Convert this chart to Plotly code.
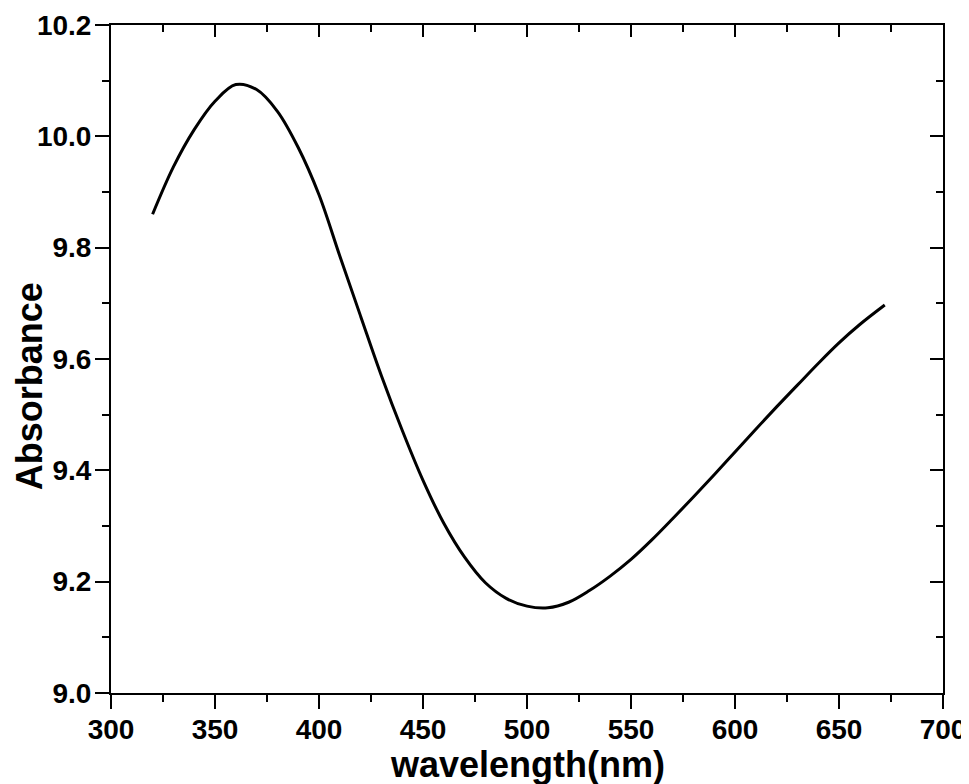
import plotly.graph_objects as go

# values
wavelength = [320, 330, 340, 350, 360, 370, 380, 390, 400, 410, 420, 430, 440,
              450, 460, 470, 480, 490, 500, 510, 520, 530, 540, 550, 560, 570,
              580, 590, 600, 610, 620, 630, 640, 650, 660, 672]
absorbance = [9.860, 9.945, 10.012, 10.063, 10.093, 10.084, 10.045, 9.980,
              9.895, 9.785, 9.677, 9.570, 9.472, 9.382, 9.305, 9.244, 9.198,
              9.170, 9.156, 9.153, 9.163, 9.184, 9.210, 9.240, 9.275, 9.313,
              9.352, 9.392, 9.433, 9.474, 9.514, 9.553, 9.592, 9.629, 9.662,
              9.697]

x_range = [300, 700]
y_range = [9.0, 10.2]

font = "Liberation Sans, Arial, sans-serif"

fig = go.Figure()

fig.add_trace(go.Scatter(
    x=wavelength, y=absorbance,
    mode="lines",
    line=dict(color="black", width=3, shape="spline", smoothing=1.0),
    showlegend=False
))

# invisible copy so the top/right mirror axes get drawn
fig.add_trace(go.Scatter(
    x=wavelength, y=absorbance,
    xaxis="x2", yaxis="y2",
    mode="lines",
    line=dict(color="rgba(0,0,0,0)", width=0),
    hoverinfo="skip",
    showlegend=False
))

axis_common = dict(
    showline=True, linecolor="black", linewidth=2,
    showgrid=False, zeroline=False, automargin=False,
    tickcolor="black", tickwidth=2,
)

# page body adds an 8px offset, so the figure is sized/margined to compensate
fig.update_layout(
    width=961, height=776,
    margin=dict(l=103, r=26, t=17, b=91),
    paper_bgcolor="white", plot_bgcolor="white",
    font=dict(family=font, color="black"),
    xaxis=dict(
        **axis_common,
        range=x_range, dtick=50, tick0=300,
        ticks="outside", ticklen=14, ticklabelstandoff=-4,
        minor=dict(dtick=25, ticks="outside", ticklen=7,
                   tickcolor="black", tickwidth=2),
        tickfont=dict(size=28, family=font, weight="bold"),
    ),
    yaxis=dict(
        **axis_common,
        range=y_range, dtick=0.2, tick0=9.0, tickformat=".1f",
        ticks="outside", ticklen=14, ticklabelstandoff=-2,
        minor=dict(dtick=0.1, ticks="outside", ticklen=7,
                   tickcolor="black", tickwidth=2),
        tickfont=dict(size=28, family=font, weight="bold"),
    ),
    xaxis2=dict(
        **axis_common,
        overlaying="x", side="top", anchor="y",
        range=x_range, dtick=50, tick0=300,
        ticks="inside", ticklen=12, showticklabels=False,
        minor=dict(dtick=25, ticks="inside", ticklen=7,
                   tickcolor="black", tickwidth=2),
    ),
    yaxis2=dict(
        **axis_common,
        overlaying="y", side="right", anchor="x",
        range=y_range, dtick=0.2, tick0=9.0,
        ticks="inside", ticklen=13, showticklabels=False,
        minor=dict(dtick=0.1, ticks="inside", ticklen=7,
                   tickcolor="black", tickwidth=2),
    ),
    annotations=[
        dict(text="wavelength(nm)", xref="paper", yref="paper",
             x=0.5, y=-0.107, xanchor="center", yanchor="middle",
             showarrow=False,
             font=dict(size=36, family=font, weight="bold")),
        dict(text="Absorbance", xref="paper", yref="paper",
             x=-0.0986, y=0.459, xanchor="center", yanchor="middle",
             textangle=-90, showarrow=False,
             font=dict(size=36, family=font, weight="bold")),
    ],
)

fig.write_html("out.html")
